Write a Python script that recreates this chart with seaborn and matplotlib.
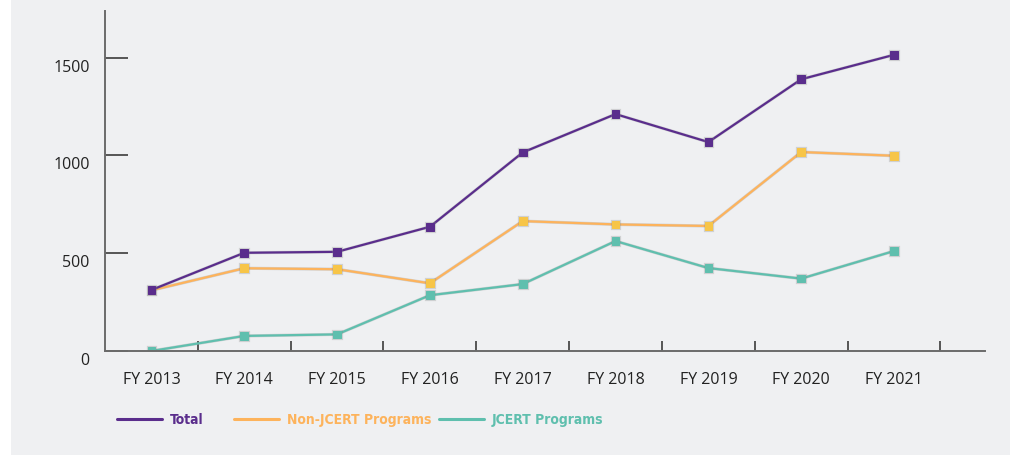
import matplotlib
matplotlib.use("Agg")
import matplotlib.pyplot as plt
import matplotlib.patheffects as pe
from matplotlib.patches import Rectangle
from matplotlib.lines import Line2D
from matplotlib.transforms import ScaledTranslation
from matplotlib import font_manager as fm
import seaborn as sns
import pandas as pd

years = ["FY 2013", "FY 2014", "FY 2015", "FY 2016", "FY 2017",
         "FY 2018", "FY 2019", "FY 2020", "FY 2021"]
total = [312, 502, 507, 635, 1015, 1211, 1068, 1389, 1514]
non_jcert = [310, 423, 418, 346, 664, 647, 639, 1017, 998]
jcert = [0, 77, 85, 285, 342, 562, 424, 370, 511]
series_names = ["Total", "Non-JCERT Programs", "JCERT Programs"]
y_ticks = [0, 500, 1000, 1500]

line_colors = {"Total": "#5a2d8c", "Non-JCERT Programs": "#fdb35c", "JCERT Programs": "#5fbfae"}
marker_colors = {"Total": "#5a2d8c", "Non-JCERT Programs": "#f7c548", "JCERT Programs": "#5fbfae"}
text_colors = {"Total": "#5a2d8c", "Non-JCERT Programs": "#fdb35c", "JCERT Programs": "#5fbfae"}

rows = []
for name, vals in zip(series_names, [total, non_jcert, jcert]):
    for i, v in enumerate(vals):
        rows.append({"idx": i, "value": v, "series": name})
df = pd.DataFrame(rows)

sns.set_theme(style="white")
plt.rcParams["font.family"] = ["Open Sans", "DejaVu Sans"]

# pick a condensed font for the legend if available
cond = None
for f in fm.fontManager.ttflist:
    nm = f.name.lower()
    if ("narrow" in nm or "condensed" in nm or f.stretch in ("condensed", "semi-condensed")) and \
            (f.weight in ("bold", 700, "semibold", 600)):
        cond = f.fname
        break
if cond is None:
    for f in fm.fontManager.ttflist:
        nm = f.name.lower()
        if "narrow" in nm or "condensed" in nm or f.stretch in ("condensed", "semi-condensed"):
            cond = f.fname
            break
LEG_SIZE = 10
if cond is not None:
    leg_prop = fm.FontProperties(fname=cond, size=LEG_SIZE)
else:
    leg_prop = fm.FontProperties(family="Roboto", weight="bold", size=9)

bg = "#eff0f2"
fig = plt.figure(figsize=(10.1, 4.55), dpi=100, facecolor="white")
fig.patches.append(Rectangle((11 / 1010, 0), 1 - 11 / 1010, 1, transform=fig.transFigure,
                             facecolor=bg, edgecolor="none", zorder=-10))
ax = fig.add_axes([105 / 1010, 104 / 455, 880 / 1010, 340 / 455])
ax.set_facecolor(bg)

for name in series_names[::-1]:
    sub = df[df["series"] == name]
    sns.lineplot(data=sub, x="idx", y="value", ax=ax, color=line_colors[name],
                 marker="s", markersize=5.5, markerfacecolor=marker_colors[name],
                 markeredgecolor=marker_colors[name], linewidth=1.6, legend=False,
                 path_effects=[pe.Stroke(linewidth=2.3, foreground="#8a8a8a", alpha=0.3), pe.Normal()])

ax.set_xlim(-0.5, 8.98)
ax.set_ylim(0, 1738)
ax.set_xlabel("")
ax.set_ylabel("")

for s in ["top", "right"]:
    ax.spines[s].set_visible(False)
for s in ["left", "bottom"]:
    ax.spines[s].set_color("#6b6b6b")
    ax.spines[s].set_linewidth(1.4)

ax.set_yticks(y_ticks)
ax.set_yticklabels([str(t) for t in y_ticks])
ax.tick_params(axis="y", left=True, direction="in", length=16.5, width=1.4, color="#555555",
               labelsize=11.5, labelcolor="#222222", pad=11)
for lbl in ax.get_yticklabels():
    lbl.set_transform(lbl.get_transform() + ScaledTranslation(0, -8 / 100, fig.dpi_scale_trans))

ax.set_xticks(range(len(years)))
ax.set_xticklabels(years)
ax.set_xticks([i + 0.5 for i in range(len(years))], minor=True)
ax.tick_params(axis="x", which="major", bottom=True, length=0, labelsize=11.5,
               labelcolor="#222222", pad=15)
ax.tick_params(axis="x", which="minor", bottom=True, direction="in", length=7, width=1.4,
               color="#555555")
ax.grid(False)

# one legend entry per series, placed where the reference puts them
leg_x = [117, 234, 439]
for n, xpx in zip(series_names, leg_x):
    h = Line2D([0], [0], color=line_colors[n], linewidth=2.2)
    leg = fig.legend([h], [n], loc="center left", bbox_to_anchor=(xpx / 1010, 1 - 420 / 455),
                     frameon=False, handlelength=32.4 / LEG_SIZE, handletextpad=0.55,
                     borderpad=0, borderaxespad=0, prop=leg_prop)
    leg.get_texts()[0].set_color(text_colors[n])

fig.savefig("out.png", dpi=100, facecolor=fig.get_facecolor())
